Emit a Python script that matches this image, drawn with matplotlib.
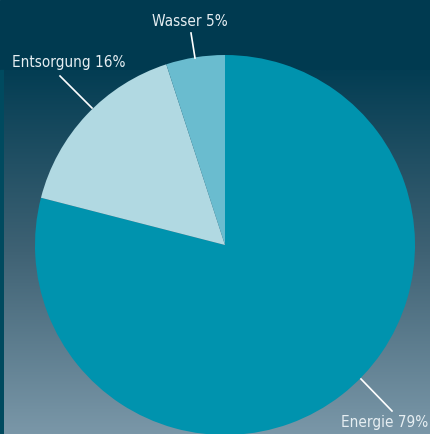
import numpy as np
import matplotlib
matplotlib.use("Agg")
import matplotlib.pyplot as plt
from matplotlib.colors import LinearSegmentedColormap
from matplotlib.font_manager import FontProperties

labels = ["Energie", "Entsorgung", "Wasser"]
shares = [79, 16, 5]
colors = ["#0093ae", "#b1d9e2", "#6abccf"]

label_font = FontProperties(family='DejaVu Sans', stretch='condensed',
                            weight='normal', style='normal', size=11)

W, H = 430, 434
fig = plt.figure(figsize=(W / 100, H / 100), dpi=100)
ax = fig.add_axes([0, 0, 1, 1])

# background: dark frame + vertical gradient panel
ax.add_patch(plt.Rectangle((0, 0), W, H, color="#003a50", zorder=0))
ax.add_patch(plt.Rectangle((0, 70), 4, H - 70, color="#004a5f", zorder=0))
grad = np.linspace(0, 1, 256).reshape(-1, 1)
cmap = LinearSegmentedColormap.from_list("bg", ["#033d53", "#3f6274", "#7a97a8"])
ax.imshow(grad, cmap=cmap, extent=(4, W, H, 70), aspect='auto', zorder=0.5)

# pie, centre and radius in pixel coordinates
cx, cy, r = 225, 245, 190
ax.pie(shares, colors=colors, startangle=90, counterclock=False,
       center=(cx, -cy), radius=r, frame=True,
       wedgeprops=dict(linewidth=0))
# pie draws in y-up coordinates; flip the wedges into the image frame
for w in ax.patches[2:]:
    w.set_transform(matplotlib.transforms.Affine2D().scale(1, -1) + ax.transData)
ax.set_xlim(0, W)
ax.set_ylim(H, 0)
ax.set_aspect('auto')
ax.axis('off')

# leader lines and labels (layout)
leaders = {
    "Energie": ((361, 379), (392, 411), (428, 423), 'right'),
    "Entsorgung": ((92, 108), (60, 76), (12, 62), 'left'),
    "Wasser": ((195, 58), (191, 33), (190, 22), 'center'),
}
for lab, val in zip(labels, shares):
    p0, p1, t, ha = leaders[lab]
    ax.plot([p0[0], p1[0]], [p0[1], p1[1]], color="white", lw=1.2, zorder=3)
    ax.text(t[0], t[1], f"{lab} {val}%", ha=ha, va='center', color="#e6eef2",
            fontproperties=label_font, zorder=4)

fig.savefig("out.png", dpi=100)
